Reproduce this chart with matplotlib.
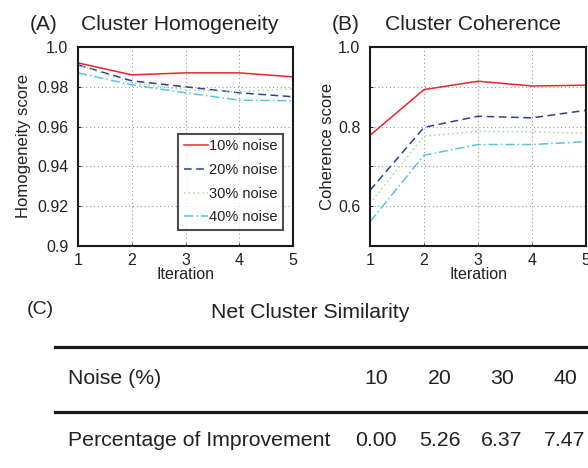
""" cluster homogeneity / coherence over iterations, plus net similarity table """

import matplotlib
matplotlib.use("Agg")
from matplotlib import pyplot as plt
from matplotlib.lines import Line2D

plt.rcParams["font.family"] = ["Liberation Sans", "DejaVu Sans"]

iterations = [1, 2, 3, 4, 5]
noise_labels = ["10% noise", "20% noise", "30% noise", "40% noise"]

homogeneity = [
	[0.992, 0.986, 0.987, 0.987, 0.985],
	[0.991, 0.983, 0.980, 0.977, 0.975],
	[0.991, 0.982, 0.9785, 0.9775, 0.979],
	[0.987, 0.981, 0.977, 0.9733, 0.973],
]
coherence = [
	[0.778, 0.893, 0.914, 0.902, 0.904],
	[0.640, 0.798, 0.826, 0.822, 0.841],
	[0.607, 0.776, 0.788, 0.787, 0.783],
	[0.561, 0.728, 0.755, 0.755, 0.762],
]

table_noise = ["10", "20", "30", "40"]
table_improvement = ["0.00", "5.26", "6.37", "7.47"]

colors = ["#e8262b", "#2b3f99", "#a8dc9c", "#56c6df"]
styles = ["-", (0, (5, 3)), (0, (1, 2)), (0, (6, 2, 1, 2))]
text_color = "#222222"

fig = plt.figure(figsize=(5.88, 4.68), dpi=100)
W, H = 588, 468


def px_axes(left, top, right, bottom):
	return fig.add_axes([left/W, 1 - bottom/H, (right - left)/W, (bottom - top)/H])


def style_axes(ax):
	for spine in ax.spines.values():
		spine.set_linewidth(1.5)
		spine.set_color("#1a1a1a")
	ax.grid(True, linestyle=(0, (1, 2.5)), color="#999999", linewidth=0.8)
	ax.tick_params(direction="in", length=2.5, width=0.6, labelsize=11.5, labelcolor=text_color)
	ax.tick_params(axis="y", pad=7)
	ax.tick_params(axis="x", pad=5)
	ax.set_xlim(1, 5)
	ax.set_xticks(iterations)
	ax.set_xlabel("Iteration", fontsize=11.5, labelpad=-1, color=text_color)


ax_a = px_axes(78, 47, 293, 246)
for values, color, ls, label in zip(homogeneity, colors, styles, noise_labels):
	ax_a.plot(iterations, values, color=color, linestyle=ls, linewidth=1.1, label=label)
style_axes(ax_a)
ax_a.set_ylim(0.9, 1.0)
ax_a.set_yticks([0.9, 0.92, 0.94, 0.96, 0.98, 1.0])
ax_a.set_yticklabels(["0.9", "0.92", "0.94", "0.96", "0.98", "1.0"])
ax_a.set_ylabel("Homogeneity score", fontsize=12, labelpad=4, color=text_color)
legend = ax_a.legend(loc="lower right", bbox_to_anchor=(0.955, 0.08), fontsize=10.5, frameon=True,
                     fancybox=False, edgecolor="#222222", handlelength=1.6, handletextpad=0.1,
                     borderpad=0.4, labelspacing=0.66, borderaxespad=0, labelcolor=text_color)
legend.get_frame().set_linewidth(1.5)
fig.text(30/W, 1 - 25/H, "(A)", fontsize=15, va="center", ha="left", color=text_color)
fig.text(180/W, 1 - 25/H, "Cluster Homogeneity", fontsize=15.2, va="center", ha="center", color=text_color)

ax_b = px_axes(370, 47, 586, 246)
for values, color, ls in zip(coherence, colors, styles):
	ax_b.plot(iterations, values, color=color, linestyle=ls, linewidth=1.1)
style_axes(ax_b)
ax_b.set_ylim(0.5, 1.0)
ax_b.set_yticks([0.5, 0.6, 0.7, 0.8, 0.9, 1.0])
ax_b.set_yticklabels(["", "0.6", "", "0.8", "", "1.0"])
ax_b.set_ylabel("Coherence score", fontsize=12, labelpad=2, color=text_color)
fig.text(332/W, 1 - 25/H, "(B)", fontsize=15, va="center", ha="left", color=text_color)
fig.text(473/W, 1 - 25/H, "Cluster Coherence", fontsize=15.2, va="center", ha="center", color=text_color)

# table (C)
fig.text(27/W, 1 - 310/H, "(C)", fontsize=14, va="center", ha="left", color=text_color)
fig.text(310/W, 1 - 313/H, "Net Cluster Similarity", fontsize=15.3, va="center", ha="center", color=text_color)
for y in (347, 412):
	fig.add_artist(Line2D([55/W, 1.0], [1 - y/H, 1 - y/H], color="#1a1a1a", linewidth=2.3))
fig.text(68/W, 1 - 378/H, "Noise (%)", fontsize=15.3, va="center", ha="left", color=text_color)
fig.text(68/W, 1 - 441/H, "Percentage of Improvement", fontsize=15.3, va="center", ha="left", color=text_color)
column_x = [376, 439.5, 501.7, 565]
for x, noise, improvement in zip(column_x, table_noise, table_improvement):
	fig.text(x/W, 1 - 378/H, noise, fontsize=15.3, va="center", ha="center", color=text_color)
	fig.text(x/W, 1 - 441/H, improvement, fontsize=15.3, va="center", ha="center", color=text_color)

fig.savefig("out.png", dpi=100)
